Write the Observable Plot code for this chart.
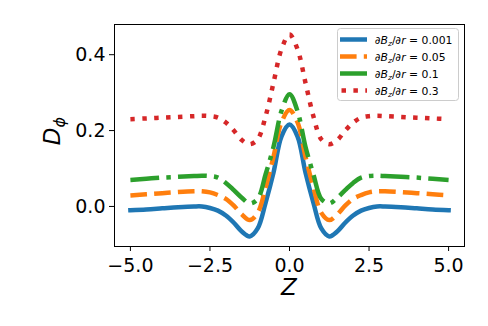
<!DOCTYPE html>
<html>
<head>
<meta charset="utf-8">
<script src="https://cdn.jsdelivr.net/npm/d3@7"></script>
<script src="https://cdn.jsdelivr.net/npm/@observablehq/plot@0.6"></script>
<style>
  html, body { margin: 0; padding: 0; background: #fff; }
  #chart { width: 488px; height: 326px; }
</style>
</head>
<body>
<div id="chart"></div>
<script>
// Z positions
const zVals = [-5, -4.5, -4, -3.5, -3, -2.75, -2.5, -2.25, -2, -1.75, -1.5, -1.25, -1, -0.75, -0.5, -0.25, 0,
               0.25, 0.5, 0.75, 1, 1.25, 1.5, 1.75, 2, 2.25, 2.5, 2.75, 3, 3.5, 4, 4.5, 5];
// D_phi for dBz/dr = 0.001
const d001 = [-0.010, -0.008, -0.005, -0.002, 0.000, 0.000, -0.004, -0.011, -0.024, -0.043, -0.066, -0.079, -0.058, 0.010, 0.090, 0.185, 0.216,
              0.185, 0.090, 0.010, -0.058, -0.079, -0.066, -0.043, -0.024, -0.011, -0.004, 0.000, 0.000, -0.002, -0.005, -0.008, -0.010];
// dBz/dr = 0.05
const d005 = [0.029, 0.032, 0.035, 0.038, 0.040, 0.040, 0.037, 0.030, 0.020, 0.002, -0.021, -0.036, -0.017, 0.050, 0.132, 0.222, 0.254,
              0.222, 0.132, 0.050, -0.017, -0.036, -0.021, 0.002, 0.020, 0.030, 0.037, 0.040, 0.040, 0.038, 0.035, 0.032, 0.029];
// dBz/dr = 0.1
const d01 = [0.070, 0.073, 0.076, 0.078, 0.080, 0.081, 0.080, 0.076, 0.062, 0.043, 0.023, 0.008, 0.020, 0.085, 0.158, 0.252, 0.296,
             0.252, 0.158, 0.085, 0.020, 0.008, 0.023, 0.043, 0.062, 0.076, 0.080, 0.081, 0.080, 0.078, 0.076, 0.073, 0.070];
// dBz/dr = 0.3
const d03 = [0.230, 0.232, 0.234, 0.236, 0.238, 0.239, 0.238, 0.234, 0.221, 0.200, 0.175, 0.164, 0.177, 0.238, 0.327, 0.415, 0.453,
             0.415, 0.327, 0.238, 0.177, 0.164, 0.175, 0.200, 0.221, 0.234, 0.238, 0.239, 0.238, 0.236, 0.234, 0.232, 0.230];

const seriesLabels = ["0.001", "0.05", "0.1", "0.3"];
const seriesValues = [d001, d005, d01, d03];
const seriesColors = ["#1f77b4", "#ff7f0e", "#2ca02c", "#d62728"];
const seriesDash = [null, "16.6,7.2", "28.8,7.2,4.5,7.2", "4.5,7.4"];
const xTicks = [-5, -2.5, 0, 2.5, 5];
const yTicks = [0, 0.2, 0.4];

const LW = 4.5;
const fmt = d3.format(".1f");

const lineMarks = seriesValues.map((vals, i) => {
  const rows = zVals.map((zz, j) => ({z: zz, v: vals[j]}));
  return Plot.line(rows, {
    x: "z", y: "v",
    stroke: seriesColors[i],
    strokeWidth: LW,
    strokeDasharray: seriesDash[i] || undefined,
    strokeLinecap: seriesDash[i] ? "butt" : "square",
    strokeLinejoin: "round",
    curve: "catmull-rom"
  });
});

const W = 488, H = 326, ML = 114, MR = 24, MT = 24, MB = 80;

const plot = Plot.plot({
  width: W, height: H,
  marginLeft: ML, marginRight: MR, marginTop: MT, marginBottom: MB,
  style: {fontFamily: "DejaVu Sans", fontSize: "19px", background: "#fff", color: "#000"},
  x: {domain: [-5.5, 5.5]},
  y: {domain: [-0.1056, 0.4796]},
  marks: [
    ...lineMarks,
    Plot.frame({stroke: "#000", strokeWidth: 1}),
    Plot.axisX({ticks: xTicks, tickFormat: fmt, tickSize: 5, tickPadding: 7, label: null, fontSize: 19, stroke: "#000"}),
    Plot.axisY({ticks: yTicks, tickFormat: fmt, tickSize: 5, tickPadding: 4, label: null, fontSize: 19, stroke: "#000"})
  ]
});

document.getElementById("chart").appendChild(plot);

const svg = d3.select(plot);
const cx = (ML + (W - MR)) / 2;

// x label
svg.append("text")
  .attr("x", cx).attr("y", 295)
  .attr("text-anchor", "middle")
  .style("font-family", "DejaVu Sans").style("font-size", "23px").style("font-style", "italic")
  .attr("fill", "#000")
  .text("Z");

// y label D_phi
const yl = svg.append("text")
  .attr("transform", "translate(60,131) rotate(-90)")
  .attr("text-anchor", "middle")
  .style("font-family", "DejaVu Sans").style("font-size", "23px")
  .attr("fill", "#000");
yl.append("tspan").style("font-style", "italic").text("D");
yl.append("tspan").style("font-style", "italic").style("font-size", "16px").attr("dy", 5).text("ϕ");

// legend
const lg = svg.append("g").attr("text-anchor", "start");
lg.append("rect")
  .attr("x", 337.5).attr("y", 28.5).attr("width", 121).attr("height", 72)
  .attr("rx", 3).attr("fill", "#fff").attr("fill-opacity", 0.8)
  .attr("stroke", "#cccccc").attr("stroke-width", 1);
seriesLabels.forEach((lab, i) => {
  const yy = 39.5 + i * 17;
  lg.append("line")
    .attr("x1", 340).attr("x2", 367).attr("y1", yy).attr("y2", yy)
    .attr("stroke", seriesColors[i]).attr("stroke-width", LW)
    .attr("stroke-dasharray", seriesDash[i] || null)
    .attr("stroke-dashoffset", i === 3 ? -1.5 : 0)
    .attr("stroke-linecap", "butt");
  const t = lg.append("text")
    .attr("x", 375).attr("y", yy + 4)
    .attr("text-anchor", "start")
    .style("font-family", "DejaVu Sans").style("font-size", "10.8px")
    .attr("fill", "#000");
  t.append("tspan").text("∂");
  t.append("tspan").style("font-style", "italic").text("B");
  t.append("tspan").style("font-style", "italic").style("font-size", "7.5px").attr("dy", 2.5).text("z");
  t.append("tspan").attr("dy", -2.5).text("/∂");
  t.append("tspan").style("font-style", "italic").text("r");
  t.append("tspan").text(" = " + lab);
});
</script>
</body>
</html>
